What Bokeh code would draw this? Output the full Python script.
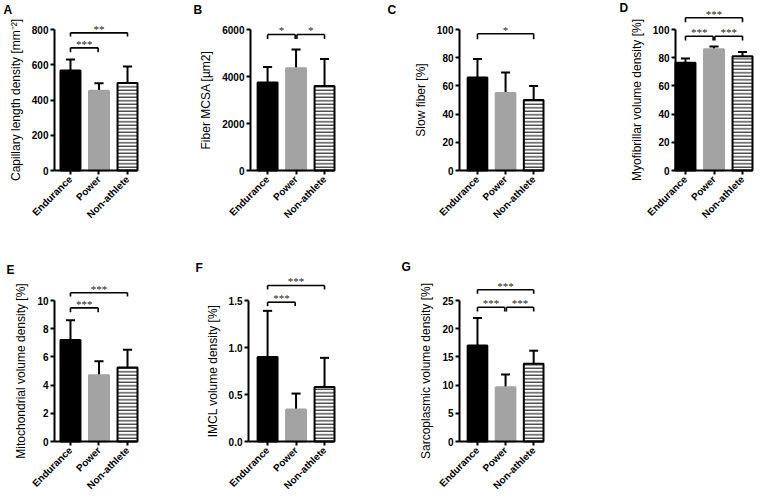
import math
from bokeh.plotting import figure
from bokeh.layouts import column, row
from bokeh.models import FixedTicker, Label, ColumnDataSource, Range1d
from bokeh.embed import file_html
from bokeh.resources import INLINE

groups = ["Endurance", "Power", "Non-athlete"]

# ---- data (mean, SD) ----
cap_mean = [567, 452, 497]
cap_sd = [63, 43, 93]
csa_mean = [3750, 4350, 3600]
csa_sd = [650, 800, 1150]
slow_mean = [66, 55, 50]
slow_sd = [13, 14.5, 10]
myo_mean = [76.5, 86, 81]
myo_sd = [3, 2, 3]
mito_mean = [7.2, 4.7, 5.25]
mito_sd = [1.4, 1.0, 1.25]
imcl_mean = [0.90, 0.34, 0.58]
imcl_sd = [0.49, 0.17, 0.31]
sarco_mean = [17.0, 9.6, 13.8]
sarco_sd = [4.9, 2.3, 2.3]

# ---- significance brackets: from group, to group, line level, drop level, stars ----
cap_br_from = [0, 0]; cap_br_to = [2, 1]; cap_br_y = [781, 696]; cap_br_drop = [760, 671]; cap_br_txt = ["**", "***"]
csa_br_from = [0, 1]; csa_br_to = [1, 2]; csa_br_y = [5790, 5790]; csa_br_drop = [5600, 5600]; csa_br_txt = ["*", "*"]
slow_br_from = [0]; slow_br_to = [2]; slow_br_y = [97]; slow_br_drop = [93]; slow_br_txt = ["*"]
myo_br_from = [0, 0, 1]; myo_br_to = [2, 1, 2]; myo_br_y = [108.3, 95.2, 95.2]; myo_br_drop = [105.2, 92.2, 92.2]; myo_br_txt = ["***", "***", "***"]
mito_br_from = [0, 0]; mito_br_to = [2, 1]; mito_br_y = [10.55, 9.48]; mito_br_drop = [10.28, 9.17]; mito_br_txt = ["***", "***"]
imcl_br_from = [0, 0]; imcl_br_to = [2, 1]; imcl_br_y = [1.66, 1.482]; imcl_br_drop = [1.617, 1.44]; imcl_br_txt = ["***", "***"]
sarco_br_from = [0, 0, 1]; sarco_br_to = [2, 1, 2]; sarco_br_y = [26.9, 23.8, 23.8]; sarco_br_drop = [26.2, 23.05, 23.05]; sarco_br_txt = ["***", "***", "***"]

cap_ticks = [0, 200, 400, 600, 800]
csa_ticks = [0, 2000, 4000, 6000]
pct_ticks = [0, 20, 40, 60, 80, 100]
mito_ticks = [0, 2, 4, 6, 8, 10]
imcl_ticks = [0, 0.5, 1.0, 1.5]
imcl_tick_labels = ["0.0", "0.5", "1.0", "1.5"]
sarco_ticks = [0, 5, 10, 15, 20, 25]

FONT = "Liberation Sans"
BAR_COLORS = ["black", "#a3a3a3", "white"]
LINE_COLORS = ["black", "#a3a3a3", "black"]
X_END = 2.35
FIG_W = 190


def panel(letter, ylabel, means, sds, ticks, br, fig_h, zero_px, left, frame_w,
          axis_h, x_start, letter_px, tick_labels=None):
    ymax = ticks[-1]
    ppy = axis_h / ymax                       # pixels per y unit
    y_lo = -(fig_h - zero_px) / ppy
    y_hi = zero_px / ppy
    ppu = frame_w / (X_END - x_start)         # pixels per category unit
    x_lo = x_start - left / ppu
    x_hi = x_lo + FIG_W / ppu
    p = figure(width=FIG_W, height=fig_h, output_backend="svg", toolbar_location=None,
               x_range=Range1d(x_lo, x_hi), y_range=Range1d(y_lo, y_hi), min_border=0)
    p.outline_line_color = None
    p.grid.visible = False
    p.background_fill_color = "white"
    p.border_fill_color = "white"

    xs = [0, 1, 2]
    tops = [m + s for m, s in zip(means, sds)]
    src = ColumnDataSource(dict(x=xs, top=means, fill=BAR_COLORS, line=LINE_COLORS,
                                hatch=["blank", "blank", "horizontal_line"]))
    # error bars (upward only)
    p.segment(x0=xs, y0=means, x1=xs, y1=tops, line_color="black", line_width=2)
    p.segment(x0=[x - 0.16 for x in xs], y0=tops, x1=[x + 0.16 for x in xs], y1=tops,
              line_color="black", line_width=2)
    p.vbar(x="x", top="top", bottom=0, width=0.7, source=src, fill_color="fill",
           line_color="line", line_width=2, hatch_pattern="hatch", hatch_color="black",
           hatch_weight=1, hatch_scale=3.5)

    # significance brackets
    bf, bt, by, bd, btxt = br
    x0s = [f + (0.03 if f == 1 else 0) for f in bf]
    x1s = [t - (0.03 if t == 1 else 0) for t in bt]
    p.segment(x0=x0s, y0=by, x1=x1s, y1=by, line_color="black", line_width=1.6)
    p.segment(x0=x0s, y0=by, x1=x0s, y1=bd, line_color="black", line_width=1.6)
    p.segment(x0=x1s, y0=by, x1=x1s, y1=bd, line_color="black", line_width=1.6)
    p.text(x=[(a + b) / 2 for a, b in zip(x0s, x1s)], y=by, text=btxt,
           text_align="center", text_baseline="alphabetic", y_offset=-4,
           text_font_size="11px", text_color="#222222", text_font=FONT)

    # axes pinned at the origin of the data, limited to the data extent
    p.yaxis.fixed_location = x_start
    p.xaxis.fixed_location = 0
    p.yaxis.ticker = FixedTicker(ticks=ticks)
    p.yaxis.bounds = (0, ymax)
    if tick_labels:
        p.yaxis.major_label_overrides = {t: l for t, l in zip(ticks, tick_labels)}
    p.xaxis.ticker = FixedTicker(ticks=xs)
    p.xaxis.bounds = (x_start, X_END)
    p.xaxis.major_label_overrides = {i: g for i, g in enumerate(groups)}
    p.xaxis.major_label_orientation = math.pi / 4
    for ax in (p.xaxis[0], p.yaxis[0]):
        ax.axis_line_width = 2
        ax.axis_line_color = "black"
        ax.major_tick_line_width = 2
        ax.major_tick_line_color = "black"
        ax.major_tick_out = 4
        ax.major_tick_in = 0
        ax.minor_tick_line_color = None
        ax.major_label_text_font = FONT
        ax.major_label_text_font_style = "bold"
        ax.major_label_text_font_size = "10px"
        ax.major_label_text_color = "black"
    p.yaxis.major_label_standoff = 2
    p.xaxis.major_label_standoff = 3
    p.yaxis.axis_label = ylabel
    p.yaxis.axis_label_text_font = FONT
    p.yaxis.axis_label_text_font_style = "normal"
    p.yaxis.axis_label_text_font_size = "12px"
    p.yaxis.axis_label_text_color = "black"
    p.yaxis.axis_label_standoff = 6

    # panel letter (screen units from the frame's bottom-left corner)
    lx, ly = letter_px
    p.add_layout(Label(x=lx, y=fig_h - ly, x_units="screen", y_units="screen",
                       text=letter, text_font=FONT, text_font_style="bold",
                       text_font_size="12px", text_baseline="middle", text_align="left",
                       text_color="black"))
    return p


TOP_H, BOT_H, AXIS_H = 250, 254, 141
TOP_ZERO, BOT_ZERO = 170, 191

pA = panel("A", "Capillary length density [mm\u207b\u00b2]", cap_mean, cap_sd, cap_ticks,
           (cap_br_from, cap_br_to, cap_br_y, cap_br_drop, cap_br_txt),
           TOP_H, TOP_ZERO, 54, 83, AXIS_H, -0.56, (3, 9))
pB = panel("B", "Fiber MCSA [\u00b5m2]", csa_mean, csa_sd, csa_ticks,
           (csa_br_from, csa_br_to, csa_br_y, csa_br_drop, csa_br_txt),
           TOP_H, TOP_ZERO, 60, 84, AXIS_H, -0.6, (3, 9))
pC = panel("C", "Slow fiber [%]", slow_mean, slow_sd, pct_ticks,
           (slow_br_from, slow_br_to, slow_br_y, slow_br_drop, slow_br_txt),
           TOP_H, TOP_ZERO, 79, 84, AXIS_H, -0.64, (7, 9))
pD = panel("D", "Myofibrillar volume density [%]", myo_mean, myo_sd, pct_ticks,
           (myo_br_from, myo_br_to, myo_br_y, myo_br_drop, myo_br_txt),
           TOP_H, TOP_ZERO, 105, 77, AXIS_H, -0.35, (49, 7))
pE = panel("E", "Mitochondrial volume density [%]", mito_mean, mito_sd, mito_ticks,
           (mito_br_from, mito_br_to, mito_br_y, mito_br_drop, mito_br_txt),
           BOT_H, BOT_ZERO, 54, 83, AXIS_H, -0.56, (6, 19))
pF = panel("F", "IMCL volume density [%]", imcl_mean, imcl_sd, imcl_ticks,
           (imcl_br_from, imcl_br_to, imcl_br_y, imcl_br_drop, imcl_br_txt),
           BOT_H, BOT_ZERO, 58, 86, AXIS_H, -0.67, (5, 17),
           tick_labels=imcl_tick_labels)
pG = panel("G", "Sarcoplasmic volume density [%]", sarco_mean, sarco_sd, sarco_ticks,
           (sarco_br_from, sarco_br_to, sarco_br_y, sarco_br_drop, sarco_br_txt),
           BOT_H, BOT_ZERO, 79, 84, AXIS_H, -0.64, (21, 16))

layout = column(row(pA, pB, pC, pD, spacing=0), row(pE, pF, pG, spacing=0), spacing=0)
open("out.html", "w").write(file_html(layout, INLINE))
